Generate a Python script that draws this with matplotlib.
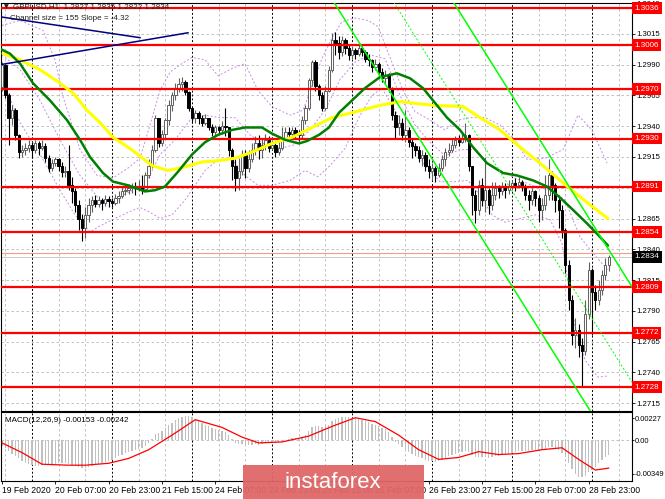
import matplotlib
matplotlib.use("Agg")
import matplotlib.pyplot as plt
import numpy as np
from matplotlib.patches import Rectangle
from matplotlib.transforms import blended_transform_factory

plt.rcParams["font.family"] = ["Liberation Sans", "DejaVu Sans"]

# ---- GBPUSD H1 candles (open of each bar = close of previous bar) ----
first_open = 1.2972
closes = [
    1.2990, 1.2965, 1.2947, 1.2953, 1.2933, 1.2919, 1.2921, 1.2922, 1.2925, 1.2921,
    1.2926, 1.2922, 1.2924, 1.2914, 1.2906, 1.2910, 1.2913, 1.2908, 1.2903, 1.2904,
    1.2892, 1.2887, 1.2876, 1.2865, 1.2857, 1.2868, 1.2876, 1.2880, 1.2877, 1.2880,
    1.2878, 1.2881, 1.2879, 1.2878, 1.2882, 1.2883, 1.2887, 1.2888, 1.2890, 1.2891,
    1.2890, 1.2891, 1.2889, 1.2900, 1.2908, 1.2921, 1.2947, 1.2926, 1.2934, 1.2945,
    1.2957, 1.2965, 1.2971, 1.2974, 1.2976, 1.2968, 1.2955, 1.2947, 1.2951, 1.2947,
    1.2943, 1.2947, 1.2939, 1.2935, 1.2939, 1.2937, 1.2940, 1.2939, 1.2921, 1.2908,
    1.2898, 1.2904, 1.2917, 1.2906, 1.2913, 1.2921, 1.2926, 1.2921, 1.2925, 1.2929,
    1.2922, 1.2925, 1.2919, 1.2922, 1.2930, 1.2935, 1.2934, 1.2937, 1.2934, 1.2933,
    1.2945, 1.2955, 1.2978, 1.2992, 1.2973, 1.2965, 1.2955, 1.2969, 1.2986, 1.3010,
    1.3008, 1.3000, 1.3010, 1.3004, 1.2998, 1.3002, 1.2999, 1.3004, 1.3000, 1.2995,
    1.2994, 1.2988, 1.2991, 1.2984, 1.2979, 1.2982, 1.2971, 1.2949, 1.2939, 1.2943,
    1.2933, 1.2937, 1.2927, 1.2924, 1.2921, 1.2914, 1.2917, 1.2908, 1.2904, 1.2906,
    1.2900, 1.2906, 1.2913, 1.2919, 1.2921, 1.2925, 1.2929, 1.2927, 1.2930, 1.2933,
    1.2908, 1.2884, 1.2872, 1.2892, 1.2880, 1.2888, 1.2876, 1.2884, 1.2890, 1.2887,
    1.2891, 1.2888, 1.2891, 1.2894, 1.2892, 1.2895, 1.2891, 1.2884, 1.2880, 1.2887,
    1.2882, 1.2872, 1.2876, 1.2884, 1.2900, 1.2892, 1.2880, 1.2872, 1.2856, 1.2827,
    1.2799, 1.2770, 1.2774, 1.2762, 1.2757, 1.2787, 1.2823, 1.2805, 1.2799, 1.2807,
    1.2819, 1.2827, 1.2834,
]
highs = [
    1.2992, 1.2991, 1.2967, 1.2957, 1.2955, 1.2934, 1.2925, 1.2926, 1.2929, 1.2927,
    1.2929, 1.2928, 1.2929, 1.2926, 1.2917, 1.2913, 1.2915, 1.2914, 1.2911, 1.2908,
    1.2925, 1.2899, 1.2890, 1.2880, 1.2869, 1.2874, 1.2882, 1.2883, 1.2884, 1.2883,
    1.2882, 1.2884, 1.2883, 1.2882, 1.2885, 1.2887, 1.2891, 1.2891, 1.2893, 1.2894,
    1.2895, 1.2896, 1.2900, 1.2903, 1.2913, 1.2925, 1.2949, 1.2947, 1.2937, 1.2947,
    1.2961, 1.2968, 1.2975, 1.2979, 1.2980, 1.2978, 1.2969, 1.2956, 1.2953, 1.2952,
    1.2949, 1.2950, 1.2947, 1.2942, 1.2941, 1.2940, 1.2944, 1.2955, 1.2939, 1.2922,
    1.2913, 1.2914, 1.2921, 1.2921, 1.2921, 1.2926, 1.2932, 1.2933, 1.2930, 1.2934,
    1.2932, 1.2929, 1.2927, 1.2929, 1.2939, 1.2939, 1.2939, 1.2939, 1.2939, 1.2937,
    1.2948, 1.2957, 1.2979, 1.2994, 1.2994, 1.2974, 1.2968, 1.2973, 1.2989, 1.3016,
    1.3017, 1.3013, 1.3013, 1.3012, 1.3006, 1.3005, 1.3004, 1.3006, 1.3005, 1.3002,
    1.2999, 1.2995, 1.2995, 1.2992, 1.2987, 1.2986, 1.2983, 1.2972, 1.2952, 1.2949,
    1.2947, 1.2953, 1.2939, 1.2930, 1.2926, 1.2924, 1.2921, 1.2919, 1.2913, 1.2910,
    1.2908, 1.2910, 1.2917, 1.2922, 1.2926, 1.2930, 1.2932, 1.2933, 1.2935, 1.2943,
    1.2934, 1.2908, 1.2888, 1.2896, 1.2898, 1.2915, 1.2890, 1.2895, 1.2895, 1.2892,
    1.2895, 1.2894, 1.2896, 1.2896, 1.2898, 1.2899, 1.2896, 1.2893, 1.2888, 1.2890,
    1.2888, 1.2884, 1.2882, 1.2900, 1.2913, 1.2904, 1.2894, 1.2884, 1.2876, 1.2857,
    1.2831, 1.2803, 1.2784, 1.2779, 1.2768, 1.2799, 1.2830, 1.2825, 1.2811, 1.2815,
    1.2823, 1.2833, 1.2835,
]
lows = [
    1.2969, 1.2963, 1.2925, 1.2941, 1.2929, 1.2914, 1.2915, 1.2917, 1.2919, 1.2914,
    1.2918, 1.2917, 1.2921, 1.2911, 1.2903, 1.2904, 1.2908, 1.2904, 1.2899, 1.2899,
    1.2888, 1.2878, 1.2870, 1.2856, 1.2847, 1.2849, 1.2862, 1.2870, 1.2874, 1.2874,
    1.2872, 1.2875, 1.2874, 1.2874, 1.2876, 1.2878, 1.2882, 1.2884, 1.2885, 1.2886,
    1.2884, 1.2887, 1.2885, 1.2887, 1.2898, 1.2906, 1.2919, 1.2923, 1.2924, 1.2930,
    1.2941, 1.2952, 1.2961, 1.2968, 1.2969, 1.2965, 1.2952, 1.2943, 1.2943, 1.2942,
    1.2940, 1.2941, 1.2937, 1.2932, 1.2933, 1.2934, 1.2934, 1.2932, 1.2916, 1.2896,
    1.2887, 1.2888, 1.2900, 1.2898, 1.2903, 1.2911, 1.2917, 1.2913, 1.2914, 1.2921,
    1.2919, 1.2921, 1.2915, 1.2917, 1.2921, 1.2930, 1.2929, 1.2932, 1.2930, 1.2928,
    1.2930, 1.2942, 1.2953, 1.2973, 1.2969, 1.2961, 1.2952, 1.2953, 1.2968, 1.2984,
    1.2998, 1.2995, 1.2997, 1.2999, 1.2994, 1.2995, 1.2995, 1.2997, 1.2997, 1.2992,
    1.2989, 1.2984, 1.2986, 1.2979, 1.2976, 1.2974, 1.2968, 1.2945, 1.2930, 1.2933,
    1.2929, 1.2927, 1.2923, 1.2914, 1.2916, 1.2911, 1.2908, 1.2904, 1.2898, 1.2896,
    1.2895, 1.2899, 1.2904, 1.2908, 1.2916, 1.2919, 1.2922, 1.2924, 1.2926, 1.2927,
    1.2904, 1.2868, 1.2861, 1.2868, 1.2875, 1.2870, 1.2869, 1.2872, 1.2880, 1.2882,
    1.2884, 1.2882, 1.2885, 1.2888, 1.2887, 1.2890, 1.2887, 1.2880, 1.2872, 1.2876,
    1.2875, 1.2862, 1.2864, 1.2872, 1.2880, 1.2880, 1.2870, 1.2857, 1.2849, 1.2821,
    1.2791, 1.2762, 1.2760, 1.2752, 1.2728, 1.2754, 1.2783, 1.2770, 1.2791, 1.2795,
    1.2803, 1.2815, 1.2822,
]

# ---- moving averages (bar, price) ----
ma_green_bars = [-0.6, 2.4, 5.4, 9.3, 14.4, 19.5, 23.4, 26.4, 30.3, 33.3, 37.8, 42.9, 45.9,
                 48.9, 52.8, 57, 60.9, 64.8, 69, 72.9, 78, 81, 84.9, 89.1, 91.5, 95.1, 98.1,
                 101.1, 105, 108.9, 113.4, 118.5, 122.4, 126.3, 129.3, 133.5, 137.4, 141.3,
                 145.5, 150.3, 154.5, 159.3, 163.5, 167.4, 171.3, 175.5, 179.4, 181.8]
ma_green = [1.3003, 1.2999, 1.2991, 1.2975, 1.2961, 1.2945, 1.2929, 1.2915, 1.2902, 1.2895,
            1.2892, 1.2887, 1.2888, 1.2891, 1.2903, 1.2917, 1.2927, 1.2933, 1.2937, 1.2939,
            1.2939, 1.2934, 1.2929, 1.2926, 1.2928, 1.2933, 1.2939, 1.2951, 1.2961, 1.2971,
            1.2980, 1.2983, 1.2979, 1.2971, 1.2961, 1.2947, 1.2937, 1.2923, 1.2910, 1.2902,
            1.2900, 1.2896, 1.2891, 1.2882, 1.2872, 1.2861, 1.2850, 1.2843]
ma_yellow_bars = [0.3, 5.4, 11.4, 17.4, 21.3, 25.5, 29.4, 33.3, 37.8, 40.8, 45, 49.8, 54.9,
                  60, 64.8, 69.9, 75, 81, 87, 93, 99, 105, 113.4, 119.4, 129.3, 138.3, 143.4,
                  149.4, 155.4, 161.4, 168.3, 175.5, 181.8]
ma_yellow = [1.2999, 1.2994, 1.2986, 1.2975, 1.2967, 1.2953, 1.2943, 1.2931, 1.2923, 1.2917,
             1.2908, 1.2904, 1.2907, 1.2911, 1.2912, 1.2914, 1.2919, 1.2926, 1.2931, 1.2939,
             1.2947, 1.2951, 1.2957, 1.2960, 1.2957, 1.2956, 1.2947, 1.2937, 1.2923, 1.2910,
             1.2894, 1.2878, 1.2865]

# ---- Bollinger bands (bar, price) ----
bb_up_bars = [0, 5.4, 12.3, 15.9, 18.3, 23.4, 28.5, 33.3, 37.8, 41.4, 44.4, 47.4, 50.4, 54,
              57, 60.9, 64.8, 69, 72.9, 76.8, 81, 86.4, 90.3, 93, 96, 99, 102, 105.9, 109.8,
              112.8, 116.4, 120.3, 123.9, 128.4, 132.9, 136.8, 140.4, 144.9, 149.4, 153.9,
              157.5, 162.9, 168.3, 172.8, 177, 181.5]
bb_up = [1.3022, 1.3026, 1.3018, 1.2994, 1.2964, 1.2921, 1.2900, 1.2898, 1.2906, 1.2914,
         1.2941, 1.2969, 1.2984, 1.2991, 1.2996, 1.2994, 1.2981, 1.2987, 1.2991, 1.2969,
         1.2956, 1.2949, 1.2953, 1.2973, 1.2995, 1.3012, 1.3025, 1.3028, 1.3026, 1.3021,
         1.2996, 1.2969, 1.2952, 1.2945, 1.2937, 1.2945, 1.2947, 1.2947, 1.2941, 1.2929,
         1.2913, 1.2914, 1.2921, 1.2949, 1.2937, 1.2910]
bb_mid_bars = [0, 5.4, 11.4, 17.4, 23.4, 29.4, 33.9, 38.4, 42.9, 47.4, 51.9, 56.4, 60.9, 65.4,
               69.9, 74.4, 78.9, 83.4, 87.9, 92.4, 96.9, 101.4, 105.9, 110.4, 114.9, 119.4,
               123.9, 128.4, 132.9, 137.4, 141.9, 146.4, 150.9, 155.4, 159.9, 164.4, 168.9,
               173.4, 177.9, 181.8]
bb_mid = [1.2998, 1.2986, 1.2961, 1.2929, 1.2900, 1.2880, 1.2880, 1.2887, 1.2892, 1.2917,
          1.2929, 1.2945, 1.2949, 1.2947, 1.2947, 1.2933, 1.2925, 1.2922, 1.2925, 1.2937,
          1.2953, 1.2978, 1.2992, 1.2998, 1.2995, 1.2965, 1.2941, 1.2927, 1.2916, 1.2921,
          1.2921, 1.2908, 1.2902, 1.2896, 1.2891, 1.2888, 1.2880, 1.2850, 1.2835, 1.2823]
bb_low_bars = [0, 5.4, 12.3, 17.4, 21.9, 26.4, 29.4, 33.9, 37.8, 41.4, 44.4, 47.4, 51, 54.9,
               57.9, 60.9, 64.8, 69, 72.9, 76.8, 81, 86.4, 90.9, 94.8, 98.4, 102.9, 107.4, 111,
               114, 117.9, 122.4, 126.9, 131.4, 135.9, 139.8, 143.4, 147, 150.9, 155.4, 159.9,
               164.4, 168, 171.9, 174.9, 178.8, 181.8]
bb_low = [1.2978, 1.2943, 1.2913, 1.2888, 1.2868, 1.2854, 1.2859, 1.2865, 1.2870, 1.2874,
          1.2870, 1.2865, 1.2868, 1.2880, 1.2892, 1.2904, 1.2913, 1.2913, 1.2900, 1.2892,
          1.2892, 1.2896, 1.2904, 1.2899, 1.2908, 1.2922, 1.2949, 1.2965, 1.2971, 1.2953,
          1.2929, 1.2908, 1.2895, 1.2895, 1.2896, 1.2884, 1.2868, 1.2862, 1.2865, 1.2868,
          1.2864, 1.2845, 1.2777, 1.2750, 1.2736, 1.2737]

# ---- objects ----
levels = [1.3036, 1.3006, 1.2970, 1.2930, 1.2891, 1.2854, 1.2809, 1.2772, 1.2728]
last_price = 1.2834
ask_price = 1.2837
chan_bar, chan_low, chan_slope, chan_size = 103, 1.3026, -0.000432, 0.0155
trend_a = ([-0.6, 41.4], [1.3029, 1.3012])
trend_b = ([-0.6, 55.8], [1.2990, 1.3016])

# ---- MACD ----
macd_hist = [
    -0.0006, -0.0008, -0.0011, -0.0014, -0.0017, -0.0019, -0.0022, -0.0024, -0.0025, -0.0026,
    -0.0027, -0.0027, -0.0026, -0.0026, -0.0026, -0.0025, -0.0025, -0.0024, -0.0024, -0.0024,
    -0.0025, -0.0026, -0.0027, -0.0028, -0.0029, -0.0029, -0.0028, -0.0027, -0.0026, -0.0025,
    -0.0024, -0.0023, -0.0022, -0.0021, -0.0019, -0.0017, -0.0015, -0.0013, -0.0012, -0.0011,
    -0.0010, -0.0009, -0.0008, -0.0006, -0.0003, 0.0001, 0.0006, 0.0007, 0.0009, 0.0012,
    0.0015, 0.0018, 0.0021, 0.0023, 0.0024, 0.0025, 0.0025, 0.0024, 0.0022, 0.0020,
    0.0018, 0.0016, 0.0014, 0.0012, 0.0011, 0.0010, 0.0009, 0.0008, 0.0005, 0.0001,
    -0.0003, -0.0004, -0.0004, -0.0005, -0.0005, -0.0005, -0.0004, -0.0005, -0.0004, -0.0003,
    -0.0003, -0.0003, -0.0003, -0.0002, -0.0001, 0.0000, 0.0001, 0.0002, 0.0002, 0.0002,
    0.0003, 0.0005, 0.0009, 0.0013, 0.0014, 0.0014, 0.0013, 0.0014, 0.0016, 0.0020,
    0.0022, 0.0023, 0.0024, 0.0024, 0.0024, 0.0023, 0.0023, 0.0022, 0.0021, 0.0020,
    0.0019, 0.0017, 0.0016, 0.0014, 0.0012, 0.0011, 0.0008, 0.0003, -0.0002, -0.0004,
    -0.0007, -0.0009, -0.0012, -0.0014, -0.0016, -0.0018, -0.0019, -0.0021, -0.0022, -0.0022,
    -0.0023, -0.0022, -0.0021, -0.0019, -0.0017, -0.0015, -0.0014, -0.0013, -0.0012, -0.0011,
    -0.0012, -0.0015, -0.0018, -0.0018, -0.0018, -0.0018, -0.0019, -0.0018, -0.0017, -0.0016,
    -0.0015, -0.0015, -0.0014, -0.0013, -0.0012, -0.0011, -0.0011, -0.0011, -0.0011, -0.0010,
    -0.0010, -0.0011, -0.0010, -0.0009, -0.0007, -0.0007, -0.0008, -0.0010, -0.0013, -0.0018,
    -0.0024, -0.0030, -0.0035, -0.0038, -0.0038, -0.0037, -0.0033, -0.0031, -0.0028, -0.0024,
    -0.0021, -0.0018, -0.0015,
]
signal_bars = [0, 6, 12, 20, 25, 32, 38, 44, 51, 58, 66, 72, 77, 84, 92, 99, 106, 112, 119,
               125, 131, 137, 143, 149, 155, 162, 168, 173, 178, 182]
signal = [-0.0003, -0.0013, -0.0025, -0.0026, -0.0026, -0.0024, -0.0019, -0.0010, 0.0005,
          0.0021, 0.0013, 0.0003, -0.0003, -0.0002, 0.0004, 0.0014, 0.0023, 0.0019, 0.0005,
          -0.0010, -0.0020, -0.0018, -0.0012, -0.0015, -0.0014, -0.0010, -0.0008, -0.0020,
          -0.0031, -0.0029]

price_ticks = [1.3040, 1.3015, 1.2990, 1.2965, 1.2940, 1.2915, 1.2890, 1.2865, 1.2840,
               1.2815, 1.2790, 1.2765, 1.2740, 1.2715]
time_bars = [0, 16, 32, 48, 64, 80, 96, 112, 128, 144, 160, 176]
time_labels = ["19 Feb 2020", "20 Feb 07:00", "20 Feb 23:00", "21 Feb 15:00", "24 Feb 07:00",
               "24 Feb 23:00", "25 Feb 15:00", "26 Feb 07:00", "26 Feb 23:00", "27 Feb 15:00",
               "28 Feb 07:00", "28 Feb 23:00"]
day_bars = [9, 33, 57, 81, 105, 129, 153, 177]
grid_bars = [1, 17, 25, 41, 49, 65, 73, 89, 97, 113, 121, 137, 145, 161, 169, 185]

# ---- figure ----
W, H = 665, 499
fig = plt.figure(figsize=(W / 100, H / 100), dpi=100)


def fx(px):
    return px / W


def fy(py):
    return 1 - py / H


ax = fig.add_axes([fx(1), fy(411), fx(632) - fx(1), fy(3) - fy(411)])
axm = fig.add_axes([fx(1), fy(481), fx(632) - fx(1), fy(412) - fy(481)])
FS = 5.8
XMIN, XMAX = -0.3, 189.0

for a in (ax, axm):
    a.set_xlim(XMIN, XMAX)
    for s in a.spines.values():
        s.set_color("black")
        s.set_linewidth(0.8)
    for b in grid_bars:
        a.axvline(b, color="#b8b8b8", lw=0.6, ls=(0, (3, 3)), zorder=0.5)
    for b in day_bars:
        a.axvline(b, color="black", lw=0.7, ls=(0, (2, 2)), zorder=0.6)
    a.yaxis.tick_right()
    a.tick_params(axis="y", labelsize=5.6, length=2, width=0.6, pad=1)

ax.set_ylim(1.27085, 1.30402)
ax.set_yticks(price_ticks)
ax.set_yticklabels([f"{t:.4f}" for t in price_ticks])
ax.set_xticks([])
for t in price_ticks:
    ax.axhline(t, color="#b8b8b8", lw=0.6, ls=(0, (3, 3)), zorder=0.5)

# bollinger bands
for bx, by in ((bb_up_bars, bb_up), (bb_mid_bars, bb_mid), (bb_low_bars, bb_low)):
    ax.plot(bx, by, color="#c98be6", lw=0.7, ls=(0, (2, 2)), zorder=1)

# candles
c = np.array(closes)
o = np.r_[first_open, c[:-1]]
hi = np.array(highs)
lo = np.array(lows)
idx = np.arange(len(c))
up = c >= o
ax.vlines(idx[up], lo[up], hi[up], color="#606060", lw=0.8, zorder=3)
ax.vlines(idx[~up], lo[~up], hi[~up], color="black", lw=0.8, zorder=3)
bot = np.minimum(o, c)
hgt = np.maximum(np.abs(c - o), 0.00004)
ax.bar(idx[up], hgt[up], bottom=bot[up], width=0.7, facecolor="white",
       edgecolor="#606060", lw=0.7, zorder=3.2)
ax.bar(idx[~up], hgt[~up], bottom=bot[~up], width=0.7, facecolor="black",
       edgecolor="black", lw=0.7, zorder=3.2)

# horizontal levels
for lv in levels:
    ax.axhline(lv, color="#ff0000", lw=1.6, zorder=4)
ax.axhline(last_price, color="#c0c0c0", lw=0.6, zorder=2)
ax.axhline(ask_price, color="#f4a080", lw=0.8, zorder=2)

# moving averages
ax.plot(ma_yellow_bars, ma_yellow, color="#ffff00", lw=2.2, zorder=5, solid_capstyle="round")
ax.plot(ma_green_bars, ma_green, color="#008000", lw=1.8, zorder=5.2, solid_capstyle="round")

# regression channel
cb = np.array([XMIN, XMAX])
base = chan_low + chan_slope * (cb - chan_bar)
ax.plot(cb, base, color="#00ff00", lw=1.1, zorder=6)
ax.plot(cb, base + chan_size, color="#00ff00", lw=1.1, zorder=6)
ax.plot(cb, base + chan_size / 2, color="#00ff00", lw=0.7, ls=(0, (2, 2)), zorder=6)

# trend lines
ax.plot(*trend_a, color="#000080", lw=1.1, zorder=6)
ax.plot(*trend_b, color="#000080", lw=1.1, zorder=6)

# price-axis labels for levels
tr = blended_transform_factory(ax.transAxes, ax.transData)
for lv in levels:
    ax.text(1.0 + 2.5 / 631, lv, f"{lv:.4f}", transform=tr, color="white", fontsize=5.8,
            va="center", ha="left", clip_on=False, zorder=10,
            bbox=dict(boxstyle="square,pad=0.3", fc="#ff0000", ec="none"))
ax.text(1.0 + 2.5 / 631, last_price, f"{last_price:.4f}", transform=tr, color="white",
        fontsize=5.8, va="center", ha="left", clip_on=False, zorder=10,
        bbox=dict(boxstyle="square,pad=0.3", fc="black", ec="none"))

# ---- MACD panel ----
axm.set_ylim(-0.00423, 0.00289)
axm.axhline(0, color="#b8b8b8", lw=0.6, ls=(0, (3, 3)), zorder=0.5)
axm.bar(idx, macd_hist, width=0.45, color="#c0c0c0", zorder=2)
axm.plot(signal_bars, signal, color="#ff0000", lw=0.9, zorder=3)
axm.set_yticks([0.00227, 0.0, -0.00349])
axm.set_yticklabels(["0.00227", "0.00", "-0.00349"])
axm.tick_params(axis="y", labelsize=5.4, pad=0.6, length=1.5)
axm.set_xticks(time_bars)
axm.set_xticklabels(time_labels, ha="left", fontsize=6.2)
axm.tick_params(axis="x", length=2, width=0.6, pad=1.5)
axm.text(0.006, 0.884, "MACD(12,26,9) -0.00153 -0.00242", transform=axm.transAxes,
         fontsize=FS, va="center", ha="left", zorder=10)

# ---- header ----
fig.text(fx(4), fy(7), "\u25bc", fontsize=4.5, va="center", ha="left", color="#202020",
         family="DejaVu Sans")
fig.text(fx(13), fy(7), "GBPUSD,H1  1.2827 1.2835 1.2822 1.2834", fontsize=FS,
         va="center", ha="left", color="#202020")
fig.text(fx(10), fy(19), "Channel size = 155 Slope = -4.32", fontsize=FS,
         va="center", ha="left", color="#202020")

# ---- watermark ----
fig.patches.append(Rectangle((fx(243), 0), fx(424) - fx(243), fy(465), transform=fig.transFigure,
                             facecolor="#e06767", edgecolor="none", alpha=0.95, zorder=20))
fig.text(fx(333), fy(482), "instaforex", color="white", fontsize=16,
         va="center", ha="center", zorder=21)

fig.savefig("out.png", dpi=100)
